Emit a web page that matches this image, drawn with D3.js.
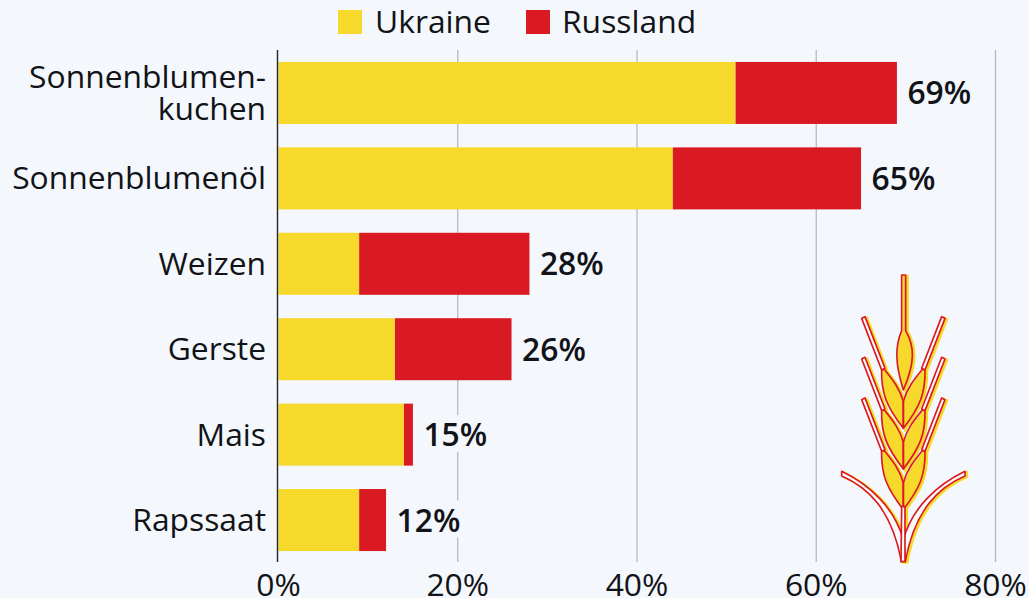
<!DOCTYPE html>
<html><head><meta charset="utf-8">
<script src="https://cdn.jsdelivr.net/npm/d3@7"></script>
<style>html,body{margin:0;padding:0;background:#f4f7fb;overflow:hidden}svg{display:block}text{font-family:"Open Sans",sans-serif}</style>
</head><body><svg id="c" width="1029" height="598"></svg>
<script>
const categories=[["Sonnenblumen-","kuchen"],["Sonnenblumenöl"],["Weizen"],["Gerste"],["Mais"],["Rapssaat"]];
const ukraine=[51,44,9,13,14,9];
const russland=[18,21,19,13,1,3];
const totals=[69,65,28,26,15,12];
const ticks=[0,20,40,60,80];
const legendNames=["Ukraine","Russland"];
const YEL="#f7d92b",RED="#d91a23",INK="#111318",BG="#f4f7fb";
const FS=31.8;
const svg=d3.select("#c");
const x=d3.scaleLinear().domain([0,80]).range([278.5,995.5]);
const y=d3.scaleBand().domain(d3.range(categories.length)).range([50,563]).paddingInner(0.274).paddingOuter(0.14);

// grid
svg.append("g").selectAll("line").data(ticks.slice(1)).join("line")
 .attr("x1",d=>x(d)).attr("x2",d=>x(d)).attr("y1",50).attr("y2",562)
 .attr("stroke","#b4b6b9").attr("stroke-width",1.2);

// bars
svg.append("g").selectAll("rect").data(ukraine).join("rect")
 .attr("x",x(0)).attr("y",(d,i)=>y(i)).attr("height",y.bandwidth())
 .attr("width",d=>x(d)-x(0)).attr("fill",YEL);
svg.append("g").selectAll("rect").data(russland).join("rect")
 .attr("x",(d,i)=>x(ukraine[i])).attr("y",(d,i)=>y(i)).attr("height",y.bandwidth())
 .attr("width",(d,i)=>x(ukraine[i]+d)-x(ukraine[i])).attr("fill",RED);

// value labels
const vals=svg.append("g").selectAll("g").data(totals).join("g");
vals.each(function(d,i){
  const g=d3.select(this);
  const t=g.append("text").attr("x",x(d)+10.5).attr("y",y(i)+y.bandwidth()/2+11.5)
    .attr("font-size",FS).attr("font-weight",600).attr("fill",INK).text(d+"%");
  const b=t.node().getBBox();
  g.insert("rect","text").attr("x",b.x).attr("y",b.y+3).attr("width",b.width).attr("height",b.height-6).attr("fill",BG);
});

// axis line + labels
svg.append("line").attr("x1",277.5).attr("x2",277.5).attr("y1",50).attr("y2",562).attr("stroke","#22252a").attr("stroke-width",1.4);
svg.append("g").selectAll("text").data(ticks).join("text")
 .attr("x",d=>x(d)).attr("y",596).attr("text-anchor","middle").attr("font-size",FS).attr("fill",INK).text(d=>d+"%");
const cat=svg.append("g").selectAll("text").data(categories).join("text")
 .attr("text-anchor","end").attr("font-size",FS).attr("fill",INK);
cat.each(function(lines,i){
  const c=y(i)+y.bandwidth()/2, lh=32;
  d3.select(this).selectAll("tspan").data(lines).join("tspan")
   .attr("x",266).attr("y",(l,k)=>c+11+(k-(lines.length-1)/2)*lh).text(l=>l);
});

// legend
const lx=[338,526],tx=[375,562];
legendNames.forEach((n,i)=>{
  svg.append("rect").attr("x",lx[i]).attr("y",10).attr("width",24).attr("height",24).attr("fill",i?RED:YEL);
  svg.append("text").attr("x",tx[i]).attr("y",33).attr("font-size",FS).attr("fill",INK).text(n);
});

// wheat decoration (drawn in zoomed icon space)
const ic=svg.append("g").attr("transform","translate(820,260) scale(.3333)");
const awnL=dy=>`M125,${175+dy} L135,${170+dy} L195,${325+dy} L185,${330+dy} Z`;
const grainL=dy=>`M185,${328+dy} C183,${400+dy} 200,${440+dy} 250,${505+dy} L250,${425+dy} C240,${385+dy} 215,${355+dy} 193,${328+dy} Z`;
const dys=[0,122,244];
const mirror=()=>`translate(500,0) scale(-1,1)`;
const leafL="M65,634 L65,648 C140,680 215,745 244,905 L250,840 C225,745 150,675 65,634 Z";
const top1="M245,45 L257,45 L257,212 C285,260 285,310 250,390 C225,310 225,260 245,212 Z";
const stem="M245,740 L255,740 L255,905 L243,905 Z";
function layer(g,fn){
  const sides=[g.append("g"),g.append("g").attr("transform",mirror())];
  sides.forEach(s=>{
    s.append("path").attr("d",leafL).call(fn,"awn");
    dys.forEach(dy=>{
      s.append("path").attr("d",grainL(dy)).call(fn,"grain");
      s.append("path").attr("d",awnL(dy)).call(fn,"awn");
    });
  });
  g.append("path").attr("d",top1).call(fn,"grain");
  g.append("path").attr("d",stem).call(fn,"awn");
}
// yellow offset layer
layer(ic.append("g").attr("transform","translate(6,3)"),(s)=>s.attr("fill",YEL).attr("stroke",YEL).attr("stroke-width",7));
// white inner gaps + red outline
layer(ic.append("g"),(s,kind)=>s.attr("fill",kind==="awn"?"#fbfbfb":"none").attr("stroke",RED).attr("stroke-width",5).attr("stroke-linejoin","round"));
</script></body></html>
